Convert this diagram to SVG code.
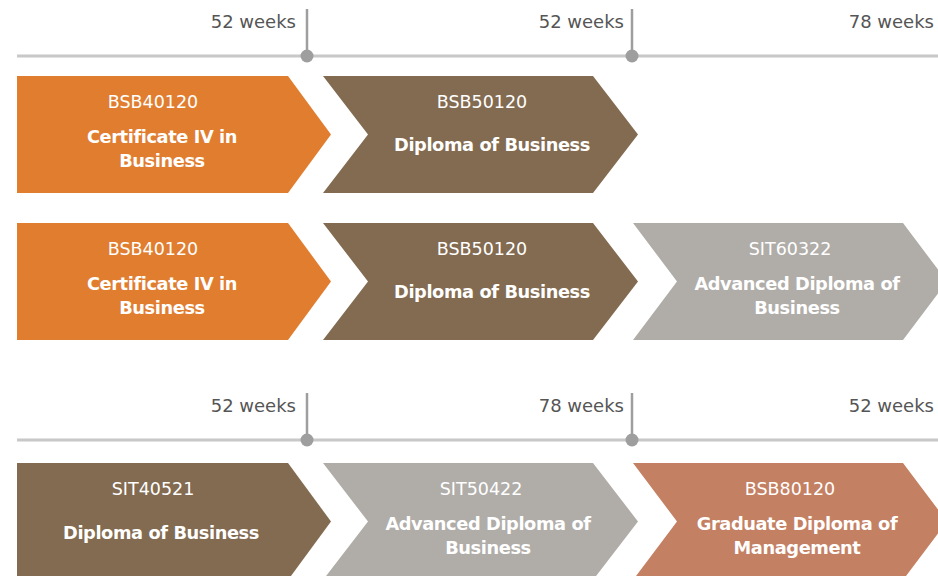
<svg xmlns="http://www.w3.org/2000/svg" xmlns:xlink="http://www.w3.org/1999/xlink" width="938" height="576" viewBox="0 0 938 576">
  <defs>
    <style>
      .orange { fill: #E17D2F; }
      .brown { fill: #836B51; }
      .grey { fill: #B0ADA9; }
      .clay { fill: #C48063; }
      .code { font-family: "DejaVu Sans", "Liberation Sans", sans-serif; font-size: 17.5px; fill: #FFFFFF; text-anchor: middle; }
      .title { font-family: "DejaVu Sans", "Liberation Sans", sans-serif; font-size: 17.8px; font-weight: bold; letter-spacing: -0.4px; fill: #FFFFFF; text-anchor: middle; }
      .dur { font-family: "DejaVu Sans", "Liberation Sans", sans-serif; font-size: 18px; fill: #555555; text-anchor: end; }
      .axis { stroke: #C8C8C8; stroke-width: 3; fill: none; }
      .tick { stroke: #9E9E9E; stroke-width: 2.5; fill: none; }
      .dot { fill: #9E9E9E; }
    </style>
    <!-- chevron outlines, one row high -->
    <path id="chev-first" d="M17,76 H288 L331,134.5 L288,193 H17 Z"/>
    <path id="chev-second" d="M323,76 H593 L638,134.5 L593,193 H323 L368,134.5 Z"/>
    <path id="chev-third" d="M633,76 H903 L947,134.5 L903,193 H633 L677,134.5 Z"/>
  </defs>

  <rect width="938" height="576" fill="#FFFFFF"/>

  <!-- timelines -->
  <g id="connectors">
    <g id="timeline-top">
      <line class="axis" x1="17" y1="56" x2="938" y2="56"/>
      <line class="tick" x1="307" y1="9" x2="307" y2="56"/>
      <line class="tick" x1="632" y1="9" x2="632" y2="56"/>
      <circle class="dot" cx="307" cy="56" r="6.5"/>
      <circle class="dot" cx="632" cy="56" r="6.5"/>
      <text class="dur" x="296" y="28">52 weeks</text>
      <text class="dur" x="624" y="28">52 weeks</text>
      <text class="dur" x="934" y="28">78 weeks</text>
    </g>
    <g id="timeline-bottom" transform="translate(0,384)">
      <line class="axis" x1="17" y1="56" x2="938" y2="56"/>
      <line class="tick" x1="307" y1="9" x2="307" y2="56"/>
      <line class="tick" x1="632" y1="9" x2="632" y2="56"/>
      <circle class="dot" cx="307" cy="56" r="6.5"/>
      <circle class="dot" cx="632" cy="56" r="6.5"/>
      <text class="dur" x="296" y="28">52 weeks</text>
      <text class="dur" x="624" y="28">78 weeks</text>
      <text class="dur" x="934" y="28">52 weeks</text>
    </g>
  </g>

  <!-- row 1 -->
  <g id="row1-cert4">
    <use xlink:href="#chev-first" class="orange"/>
    <text class="code" x="153" y="108">BSB40120</text>
    <text class="title" x="162" y="143">Certificate IV in</text>
    <text class="title" x="162" y="167">Business</text>
  </g>
  <g id="row1-diploma">
    <use xlink:href="#chev-second" class="brown"/>
    <text class="code" x="482" y="108">BSB50120</text>
    <text class="title" x="492" y="151">Diploma of Business</text>
  </g>

  <!-- row 2 -->
  <g id="row2-cert4" transform="translate(0,147)">
    <use xlink:href="#chev-first" class="orange"/>
    <text class="code" x="153" y="108">BSB40120</text>
    <text class="title" x="162" y="143">Certificate IV in</text>
    <text class="title" x="162" y="167">Business</text>
  </g>
  <g id="row2-diploma" transform="translate(0,147)">
    <use xlink:href="#chev-second" class="brown"/>
    <text class="code" x="482" y="108">BSB50120</text>
    <text class="title" x="492" y="151">Diploma of Business</text>
  </g>
  <g id="row2-adv-diploma" transform="translate(0,147)">
    <use xlink:href="#chev-third" class="grey"/>
    <text class="code" x="790" y="108">SIT60322</text>
    <text class="title" x="797" y="143">Advanced Diploma of</text>
    <text class="title" x="797" y="167">Business</text>
  </g>

  <!-- row 3 -->
  <g id="row3-diploma" transform="translate(0,387)">
    <use xlink:href="#chev-first" class="brown"/>
    <text class="code" x="153" y="108">SIT40521</text>
    <text class="title" x="161" y="152">Diploma of Business</text>
  </g>
  <g id="row3-adv-diploma" transform="translate(0,387)">
    <use xlink:href="#chev-second" class="grey"/>
    <text class="code" x="481" y="108">SIT50422</text>
    <text class="title" x="488" y="143">Advanced Diploma of</text>
    <text class="title" x="488" y="167">Business</text>
  </g>
  <g id="row3-grad-diploma" transform="translate(0,387)">
    <use xlink:href="#chev-third" class="clay"/>
    <text class="code" x="790" y="108">BSB80120</text>
    <text class="title" x="797" y="143">Graduate Diploma of</text>
    <text class="title" x="797" y="167">Management</text>
  </g>
</svg>
